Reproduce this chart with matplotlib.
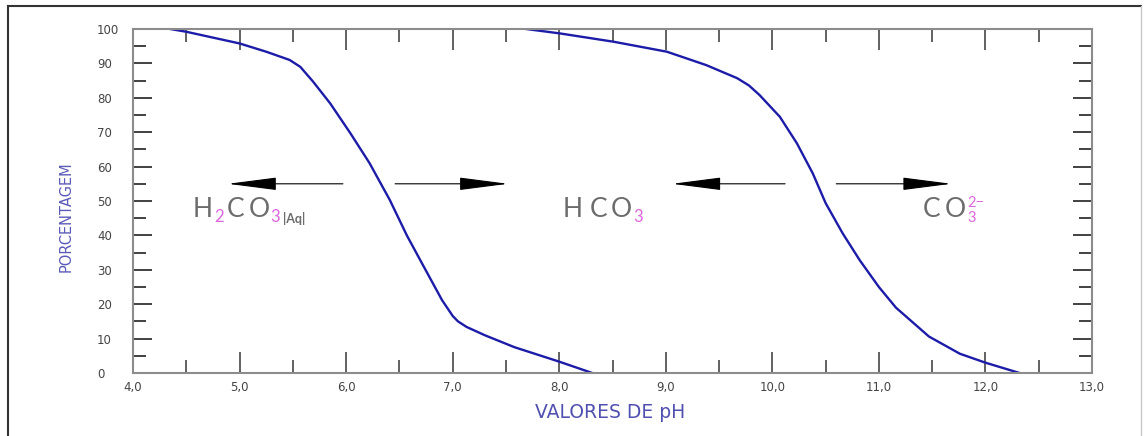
import matplotlib
matplotlib.use("Agg")
import matplotlib.pyplot as plt
from matplotlib.lines import Line2D

# fração de H2CO3 (curva da esquerda)
ph_h2co3 = [4.35, 4.5, 5.0, 5.25, 5.47, 5.57, 5.69, 5.85, 6.04, 6.22, 6.41, 6.57,
            6.71, 6.90, 7.0, 7.05, 7.13, 7.3, 7.58, 8.0, 8.31]
pct_h2co3 = [100, 99.2, 95.8, 93.4, 91.0, 89.0, 84.7, 78.4, 69.7, 61.0, 50.3, 40.0,
             32.0, 21.2, 16.6, 15.0, 13.4, 11.0, 7.5, 3.3, 0]

# fração de HCO3 (curva da direita)
ph_hco3 = [7.69, 8.01, 8.51, 9.01, 9.38, 9.67, 9.78, 9.88, 10.07, 10.23, 10.38, 10.5,
           10.66, 10.82, 11.0, 11.16, 11.47, 11.76, 12.0, 12.32]
pct_hco3 = [100, 98.7, 96.3, 93.4, 89.5, 85.7, 83.6, 80.8, 74.5, 66.8, 58.0, 49.4,
            40.6, 32.8, 25.0, 19.0, 10.6, 5.6, 3.0, 0]

x_ticks = [4, 5, 6, 7, 8, 9, 10, 11, 12, 13]
x_labels = ["4,0", "5,0", "6,0", "7,0", "8,0", "9,0", "10,0", "11,0", "12,0", "13,0"]
y_ticks = [0, 10, 20, 30, 40, 50, 60, 70, 80, 90, 100]
y_labels = ["0", "10", "20", "30", "40", "50", "60", "70", "80", "90", "100"]

W, H = 1148, 436
fig = plt.figure(figsize=(W / 100, H / 100), dpi=100)
ax = fig.add_axes([133 / W, 1 - 373 / H, (1092 - 133) / W, (373 - 29) / H])

blue = "#1c1ca8"
ax.plot(ph_h2co3, pct_h2co3, color=blue, lw=1.7, solid_joinstyle="round")
ax.plot(ph_hco3, pct_hco3, color=blue, lw=1.7, solid_joinstyle="round")

ax.set_xlim(4, 13)
ax.set_ylim(0, 100)
ax.set_xticks(x_ticks)
ax.set_xticklabels(x_labels)
ax.set_xticks([v + 0.5 for v in x_ticks[:-1]], minor=True)
ax.set_yticks(y_ticks)
ax.set_yticklabels(y_labels)
ax.set_yticks([v + 5 for v in y_ticks[:-1]], minor=True)

for s in ax.spines.values():
    s.set_color("#8c8c8c")
    s.set_linewidth(1.5)

ax.tick_params(axis="x", which="major", direction="in", length=15, width=1.3,
               color="#555555", top=True, labelsize=8.5, labelcolor="#444444", pad=6)
ax.tick_params(axis="x", which="minor", direction="in", length=9.5, width=1.3,
               color="#555555", top=True)
ax.tick_params(axis="y", which="major", direction="in", length=14, width=1.3,
               color="#333333", right=True, labelsize=8.5, labelcolor="#444444", pad=26)
ax.tick_params(axis="y", which="minor", direction="in", length=9.5, width=1.3,
               color="#333333", right=True)
for lab in ax.get_yticklabels():
    lab.set_horizontalalignment("left")

# eixos
fig.text(610 / W, 1 - 412 / H, "VALORES DE pH", color="#5050b0", fontsize=13.5,
         ha="center", va="center")
fig.text(66 / W, 1 - 217 / H, "PORCENTAGEM", color="#5a5ab8", fontsize=10.5,
         rotation=90, ha="center", va="center")

# setas
def arrow(x0, x1, y=55):
    ax.annotate("", xy=(x1, y), xytext=(x0, y),
                arrowprops=dict(arrowstyle="-|>,head_length=3.1,head_width=0.4",
                                color="black", lw=0.8, mutation_scale=10,
                                shrinkA=0, shrinkB=0))

arrow(5.97, 4.89)
arrow(6.46, 7.52)
arrow(10.12, 9.06)
arrow(10.60, 11.68)

gray = "#6c6c6c"
pink = "#dd66dd"
fam = ["Lato", "DejaVu Sans"]
big = 19
small = 12


def after(prev, base, txt, col, size, dx=3, dy=0, weight="normal"):
    # texto colado à direita de prev, alinhado à base de base
    return ax.annotate(txt, xy=(1, 0), xycoords=(prev, base), xytext=(dx, dy),
                       textcoords="offset points", color=col, fontsize=size,
                       family=fam, fontweight=weight, va="bottom", ha="left")


# H2CO3(Aq)
h = ax.text(4.56, 45.3, "H", color=gray, fontsize=big, family=fam, va="baseline")
s2 = after(h, h, "2", pink, small, dx=1, dy=-2)
c = after(s2, h, "C", gray, big, dx=2)
o = after(c, h, "O", gray, big)
s3 = after(o, h, "3", pink, small, dx=1, dy=-2)
after(s3, s3, "|Aq|", gray, 9, dx=2, dy=0, weight="bold")

# HCO3
h2 = ax.text(8.03, 45.3, "H", color=gray, fontsize=big, family=fam, va="baseline")
c2 = after(h2, h2, "C", gray, big, dx=5)
o2 = after(c2, h2, "O", gray, big)
after(o2, h2, "3", pink, small, dx=1, dy=-2)

# CO3 2-
c3 = ax.text(11.41, 45.3, "C", color=gray, fontsize=big, family=fam, va="baseline")
o3 = after(c3, c3, "O", gray, big)
after(o3, c3, "3", pink, 10.5, dx=1.5, dy=-2)
ax.annotate("2\u2212", xy=(1, 1), xycoords=o3, xytext=(1.5, 1), textcoords="offset points",
            color=pink, fontsize=10.5, family=fam, va="top")

# moldura externa
fig.add_artist(Line2D([8 / W, 8 / W], [0, 1 - 6 / H], transform=fig.transFigure,
                      color="#333333", lw=1.5))
fig.add_artist(Line2D([8 / W, 1141 / W], [1 - 6 / H, 1 - 6 / H], transform=fig.transFigure,
                      color="#333333", lw=1.5))
fig.add_artist(Line2D([1141 / W, 1141 / W], [0, 1 - 6 / H], transform=fig.transFigure,
                      color="#c8c8c8", lw=1.0))

fig.savefig("out.png", dpi=100)
